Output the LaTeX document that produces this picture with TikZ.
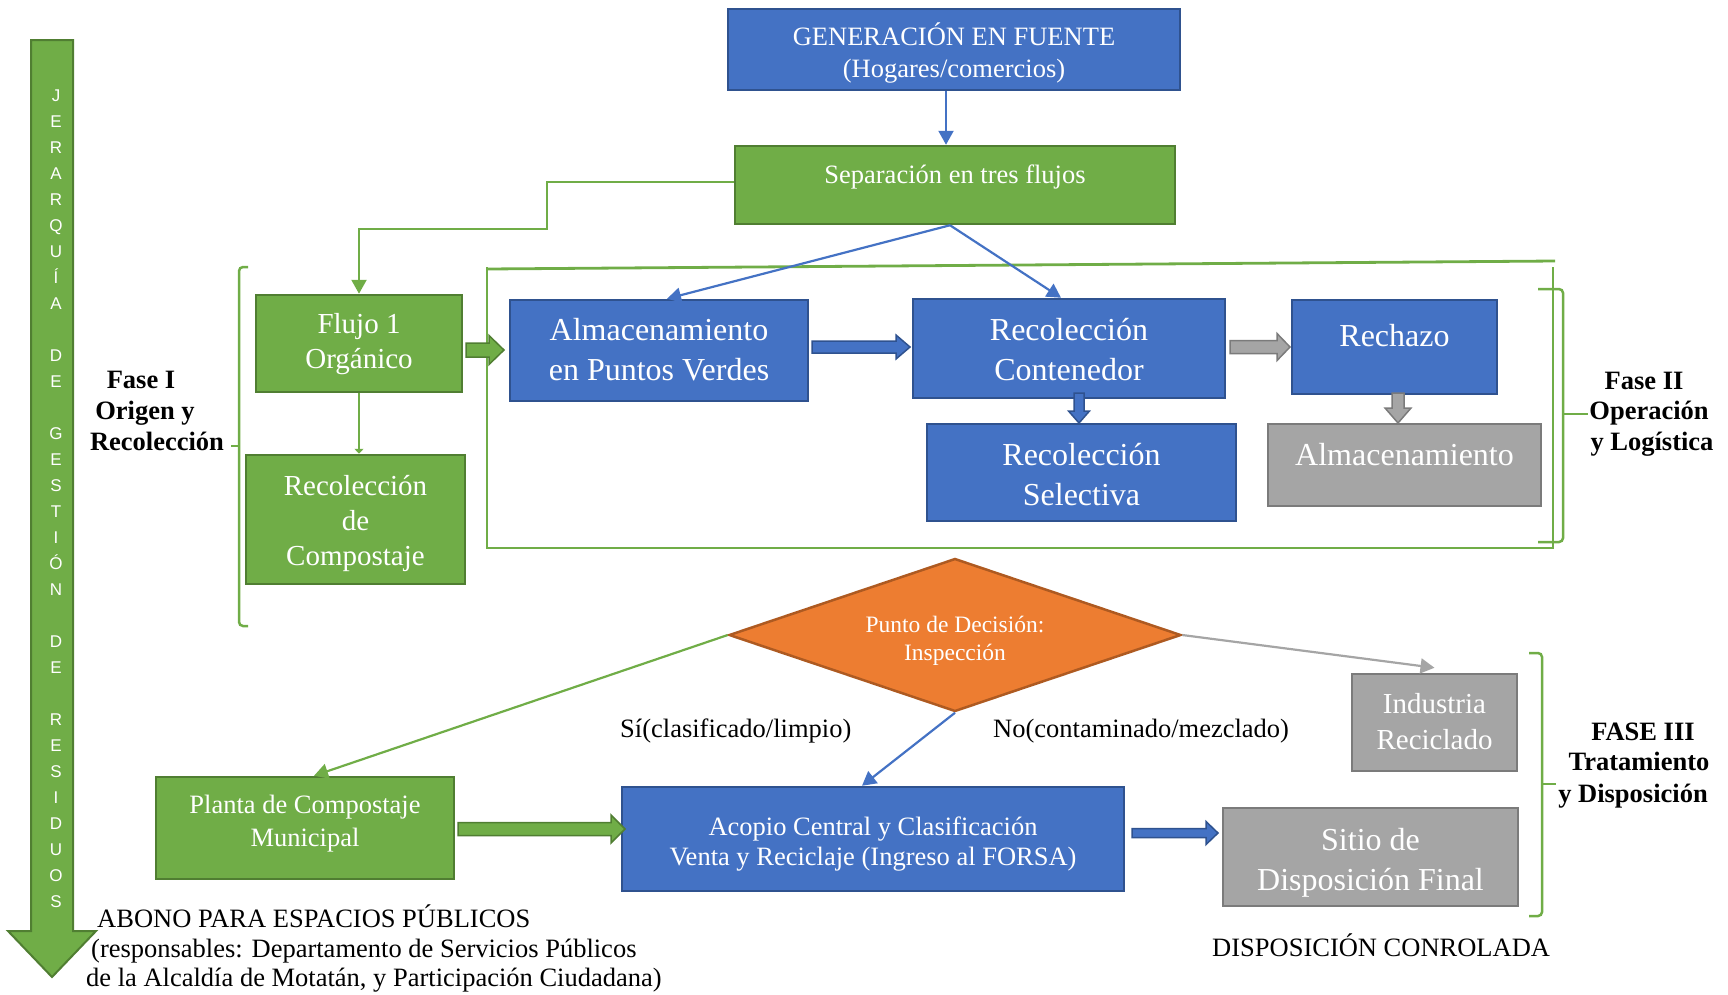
\documentclass[tikz,border=0pt]{standalone}
\usepackage{fontspec}
\setmainfont{Liberation Serif}
\newfontfamily\letterfont{Liberation Sans}
\usetikzlibrary{arrows.meta,shapes.geometric}
\definecolor{bfill}{HTML}{4472C4}
\definecolor{bdraw}{HTML}{2F528F}
\definecolor{gfill}{HTML}{70AD47}
\definecolor{gdraw}{HTML}{507E32}
\definecolor{grfill}{HTML}{A5A5A5}
\definecolor{grdraw}{HTML}{7B7B7B}
\definecolor{ofill}{HTML}{ED7D31}
\definecolor{odraw}{HTML}{AE5A21}
% horizontal block arrow: x1, x2, y, shaft, head, head length, style
\newcommand\hblock[7]{\draw[#7] (#1,#3-#4/2) -- (#2-#6,#3-#4/2) -- (#2-#6,#3-#5/2) -- (#2,#3) -- (#2-#6,#3+#5/2) -- (#2-#6,#3+#4/2) -- (#1,#3+#4/2) -- cycle;}
% vertical block arrow: x, y1, y2, shaft, head, head length, style
\newcommand\vblock[7]{\draw[#7] (#1-#4/2,#2) -- (#1-#4/2,#3-#6) -- (#1-#5/2,#3-#6) -- (#1,#3) -- (#1+#5/2,#3-#6) -- (#1+#4/2,#3-#6) -- (#1+#4/2,#2) -- cycle;}
\tikzset{
  box/.style={rectangle, line width=2.5pt, inner sep=0pt},
  bluebox/.style={box, fill=bfill, draw=bdraw},
  greenbox/.style={box, fill=gfill, draw=gdraw},
  graybox/.style={box, fill=grfill, draw=grdraw},
  wt/.style={text=white, anchor=base, inner sep=0pt},
  bt/.style={text=black, anchor=base, inner sep=0pt},
  fa/.style={font=\fontsize{26.5}{32}\selectfont},
  fb/.style={font=\fontsize{29}{34}\selectfont},
  fc/.style={font=\fontsize{32}{38}\selectfont},
  fd/.style={font=\fontsize{23.5}{28}\selectfont},
  fbold/.style={font=\fontsize{26.5}{32}\selectfont\bfseries},
  tip/.style={-{Triangle[width=15pt,length=14pt]}},
  blueline/.style={draw=bfill, line width=2.2pt},
  greenline/.style={draw=gfill, line width=2.2pt},
  grayline/.style={draw=grfill, line width=2.2pt},
  gblock/.style={fill=gfill, draw=gdraw, line width=1.5pt},
  bblock/.style={fill=bfill, draw=bdraw, line width=1.5pt},
  grblock/.style={fill=grfill, draw=grdraw, line width=1.5pt},
  phasebox/.style={draw=gfill, line width=2.8pt},
  brace/.style={draw=gfill, line width=2.5pt, rounded corners=4pt},
  letter/.style={text=white, anchor=base, inner sep=0pt, font=\letterfont\fontsize{17}{20}\selectfont},
}
\begin{document}
\begin{tikzpicture}[x=1pt,y=-1pt]
\useasboundingbox (0,0) rectangle (1728,994);

% big hierarchy arrow
\draw[fill=gfill, draw=gdraw, line width=2pt] (31,40) -- (73,40) -- (73,931) -- (96,931) -- (52,977) -- (8,931) -- (31,931) -- cycle;
\foreach \l [count=\i from 0] in {J,E,R,A,R,Q,U,Í,A,{},D,E,{},G,E,S,T,I,Ó,N,{},D,E,{},R,E,S,I,D,U,O,S}
  \node[letter] (L\i) at (56,101+26*\i) {\l};

% boxes
\node[bluebox, minimum width=452pt, minimum height=81pt] (gen) at (954,49.5) {};
\node[wt, fa] (genT1) at (954,45) {GENERACIÓN EN FUENTE};
\node[wt, fa] (genT2) at (954,77) {(Hogares/comercios)};

\node[greenbox, minimum width=440pt, minimum height=78pt] (sep) at (955,185) {};
\node[wt, fa] (sepT) at (955,183) {Separación en tres flujos};

\node[greenbox, minimum width=206pt, minimum height=97pt] (flujo) at (359,343.5) {};
\node[wt, fb] (flujoT1) at (359,333) {Flujo 1};
\node[wt, fb] (flujoT2) at (359,368) {Orgánico};

\node[greenbox, minimum width=219pt, minimum height=129pt] (compost) at (355.5,519.5) {};
\node[wt, fb] (compT1) at (355.5,495) {Recolección};
\node[wt, fb] (compT2) at (355.5,530) {de};
\node[wt, fb] (compT3) at (355.5,565) {Compostaje};

\node[bluebox, minimum width=298pt, minimum height=101pt] (almpv) at (659,350.5) {};
\node[wt, fc] (almpvT1) at (659,340) {Almacenamiento};
\node[wt, fc] (almpvT2) at (659,380) {en Puntos Verdes};

\node[bluebox, minimum width=312pt, minimum height=99pt] (reccont) at (1069,348.5) {};
\node[wt, fc] (reccontT1) at (1069,340) {Recolección};
\node[wt, fc] (reccontT2) at (1069,380) {Contenedor};

\node[bluebox, minimum width=205pt, minimum height=94pt] (rech) at (1394.5,347) {};
\node[wt, fc] (rechT) at (1394.5,346) {Rechazo};

\node[bluebox, minimum width=309pt, minimum height=97pt] (recsel) at (1081.5,472.5) {};
\node[wt, fc] (recselT1) at (1081.5,465) {Recolección};
\node[wt, fc] (recselT2) at (1081.5,505) {Selectiva};

\node[graybox, minimum width=273pt, minimum height=82pt] (almg) at (1404.5,465) {};
\node[wt, fc] (almgT) at (1404.5,465) {Almacenamiento};

\node[diamond, fill=ofill, draw=odraw, line width=2.5pt, inner sep=0pt, aspect=2.95, minimum width=452pt, minimum height=153pt] (dia) at (955,635) {};
\node[wt, fd] (diaT1) at (955,632) {Punto de Decisión:};
\node[wt, fd] (diaT2) at (955,660) {Inspección};

\node[graybox, minimum width=165pt, minimum height=97pt] (ind) at (1434.5,722.5) {};
\node[wt, fb] (indT1) at (1434.5,713) {Industria};
\node[wt, fb] (indT2) at (1434.5,749) {Reciclado};

\node[greenbox, minimum width=298pt, minimum height=102pt] (planta) at (305,828) {};
\node[wt, fa] (plantaT1) at (305,813) {Planta de Compostaje};
\node[wt, fa] (plantaT2) at (305,846) {Municipal};

\node[bluebox, minimum width=502pt, minimum height=104pt] (acopio) at (873,839) {};
\node[wt, fa] (acopioT1) at (873,835) {Acopio Central y Clasificación};
\node[wt, fa] (acopioT2) at (873,865) {Venta y Reciclaje (Ingreso al FORSA)};

\node[graybox, minimum width=295pt, minimum height=98pt] (sitio) at (1370.5,857) {};
\node[wt, fc] (sitioT1) at (1370.5,850) {Sitio de};
\node[wt, fc] (sitioT2) at (1370.5,890) {Disposición Final};

% phase II frame
\coordinate (p1) at (487,269);
\coordinate (p2) at (1555,261);
\coordinate (p3) at (487,267);
\coordinate (p4) at (487,548);
\coordinate (p5) at (1553,548);
\coordinate (p6) at (1553,267);
\draw[phasebox] (p1) -- (p2);
\draw[phasebox] (p3) -- (p4) -- (p5) -- (p6);

% braces
\draw[brace] (248,267) -- (239,267) -- (239,626) -- (248,626);
\draw[greenline] (239,446) -- (231,446);
\draw[brace] (1538,289) -- (1563,289) -- (1563,542) -- (1538,542);
\draw[greenline] (1563,414) -- (1588,414);
\draw[brace] (1529,653) -- (1542,653) -- (1542,916) -- (1529,916);
\draw[greenline] (1542,784) -- (1556,784);

% phase labels
\node[bt, fbold] (f1a) at (141,388) {Fase I};
\node[bt, fbold] (f1b) at (145,419) {Origen y};
\node[bt, fbold] (f1c) at (157,450) {Recolección};
\node[bt, fbold] (f2a) at (1644,389) {Fase II};
\node[bt, fbold] (f2b) at (1649,419) {Operación};
\node[bt, fbold] (f2c) at (1652,450) {y Logística};
\node[bt, fbold] (f3a) at (1643,740) {FASE III};
\node[bt, fbold] (f3b) at (1639,770) {Tratamiento};
\node[bt, fbold] (f3c) at (1633,802) {y Disposición};

% thin connectors
\draw[blueline, tip] ([xshift=-8pt]gen.south) -- ([xshift=-8pt]gen.south |- sep.north);
\coordinate (bend) at (547,229);
\draw[greenline, tip] ([yshift=3pt]sep.west) -| (bend) -| (flujo.north);
\draw[blueline, tip] ([xshift=-5pt]sep.south) -- ([xshift=8pt]almpv.north);
\draw[blueline, tip] ([xshift=-5pt]sep.south) -- ([xshift=-8pt]reccont.north);
\draw[greenline, -{Triangle[width=9pt,length=5pt]}] (flujo.south) -- (flujo.south |- compost.north);
\draw[greenline, tip] (dia.west) -- ([xshift=9pt]planta.north);
\draw[blueline, tip] (dia.south) -- ([xshift=-11pt]acopio.north);
\draw[grayline, tip] (dia.east) -- ([yshift=5pt]ind.north);

% block arrows
\hblock{466}{504}{350}{14}{29}{15}{gblock}
\hblock{812}{910}{347}{12}{24}{14}{bblock}
\hblock{1230}{1290}{347}{13}{27}{13}{grblock}
\vblock{1079}{393}{423}{10}{21}{12}{bblock}
\vblock{1398}{393}{423}{12}{26}{15}{grblock}
\hblock{458}{625}{829}{13}{28}{14}{gblock}
\hblock{1132}{1218}{833}{9}{23}{12}{bblock}

% free labels
\node[bt, fa] (si) at (620,737) [anchor=base west] {Sí(clasificado/limpio)};
\node[bt, fa] (no) at (993,737) [anchor=base west] {No(contaminado/mezclado)};
\node[bt, fa] (ab1) at (97,927) [anchor=base west] {ABONO PARA ESPACIOS PÚBLICOS};
\node[bt, fa] (ab2) at (91,957) [anchor=base west] {(responsables: Departamento de Servicios Públicos};
\node[bt, fa] (ab3) at (86,986) [anchor=base west] {de la Alcaldía de Motatán, y Participación Ciudadana)};
\node[bt, fa] (disp) at (1212,956) [anchor=base west] {DISPOSICIÓN CONROLADA};
\end{tikzpicture}
\end{document}
